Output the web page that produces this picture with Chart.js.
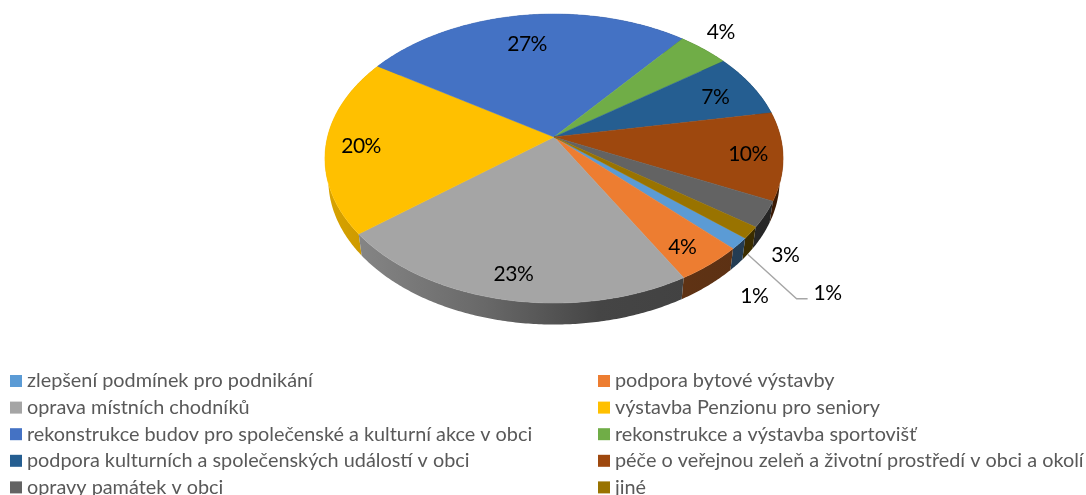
<!DOCTYPE html>
<html>
<head>
<meta charset="utf-8">
<style>html,body{margin:0;padding:0;background:#fff;overflow:hidden}canvas{display:block}</style>
<script src="https://cdn.jsdelivr.net/npm/chart.js@4/dist/chart.umd.min.js"></script>
</head>
<body>
<canvas id="c" width="1086" height="495"></canvas>
<script>
const categories = [
  "zlepšení podmínek pro podnikání",
  "podpora bytové výstavby",
  "oprava místních chodníků",
  "výstavba Penzionu pro seniory",
  "rekonstrukce budov pro společenské a kulturní akce v obci",
  "rekonstrukce a výstavba sportovišť",
  "podpora kulturních a společenských událostí v obci",
  "péče o veřejnou zeleň a životní prostředí v obci a okolí",
  "opravy památek v obci",
  "jiné"
];
const shares = [1.3, 4.2, 22.6, 19.8, 26.8, 4.2, 7.1, 9.8, 2.9, 1.3];
const colors = ["#5B9BD5","#ED7D31","#A5A5A5","#FFC000","#4472C4","#70AD47","#255E91","#9E480E","#636363","#997300"];
const labelOffsets = [[15,53],[-28,-17],[9,-25],[35,2],[4,29],[17,-17],[-36,12],[-35,-2],[20,41],[77,61]];
const leaderIndex = 9;

const RX = 226.5, RY = 141.3, K = -0.149, DEPTH = 21.5, SHRINK = 0.985;
const shade = [[0,.85],[.35,.63],[.6,.42],[1,.38]];

function project(arc, a) {
  const u = Math.cos(a), v = Math.sin(a), d = 1 + K * v;
  return { x: arc.x + RX * u / d, y: arc.y + RY * v / d };
}
function base(arc, p) {
  return { x: arc.x + (p.x - arc.x) * SHRINK, y: p.y + DEPTH };
}
function rgb(hex, m) {
  const n = parseInt(hex.slice(1), 16);
  return `rgb(${Math.round((n>>16&255)*m)},${Math.round((n>>8&255)*m)},${Math.round((n&255)*m)})`;
}
function samples(arc) {
  const out = [], n = Math.max(2, Math.ceil((arc.endAngle - arc.startAngle) / 0.01));
  for (let i = 0; i <= n; i++) out.push(arc.startAngle + (arc.endAngle - arc.startAngle) * i / n);
  return out;
}

const projectedPie = {
  id: "projectedPie",
  beforeDatasetsDraw(chart) {
    const ctx = chart.ctx, arcs = chart.getDatasetMeta(0).data;
    const order = arcs.map((a, i) => i).sort((p, q) =>
      Math.sin((arcs[p].startAngle + arcs[p].endAngle) / 2) - Math.sin((arcs[q].startAngle + arcs[q].endAngle) / 2));
    // walls
    order.forEach(i => {
      const arc = arcs[i], top = samples(arc).map(a => project(arc, a));
      const g = ctx.createLinearGradient(arc.x - RX, 0, arc.x + RX, 0);
      shade.forEach(s => g.addColorStop(s[0], rgb(colors[i], s[1])));
      ctx.beginPath();
      top.forEach((p, j) => j ? ctx.lineTo(p.x, p.y) : ctx.moveTo(p.x, p.y));
      top.slice().reverse().forEach(p => { const b = base(arc, p); ctx.lineTo(b.x, b.y); });
      ctx.closePath();
      ctx.fillStyle = g; ctx.fill();
    });
    // top faces
    arcs.forEach((arc, i) => {
      ctx.beginPath();
      ctx.moveTo(arc.x, arc.y);
      samples(arc).forEach(a => { const p = project(arc, a); ctx.lineTo(p.x, p.y); });
      ctx.closePath();
      ctx.fillStyle = colors[i]; ctx.fill();
      ctx.strokeStyle = colors[i]; ctx.lineWidth = 0.5; ctx.stroke();
    });
    return false;
  },
  afterDraw(chart) {
    const ctx = chart.ctx, arcs = chart.getDatasetMeta(0).data;
    // leader line
    const la = arcs[leaderIndex], lp = project(la, (la.startAngle + la.endAngle) / 2), lb = base(la, lp);
    const off = labelOffsets[leaderIndex];
    ctx.beginPath();
    ctx.moveTo(lb.x, lb.y);
    ctx.lineTo(lp.x + off[0] - 31, lp.y + off[1] + 5);
    ctx.lineTo(lp.x + off[0] - 20, lp.y + off[1] + 5);
    ctx.strokeStyle = "#A6A6A6"; ctx.lineWidth = 1.4; ctx.stroke();
    // value labels
    ctx.font = '21px Lato'; ctx.letterSpacing = "-0.5px"; ctx.fillStyle = "#000"; ctx.textAlign = "center"; ctx.textBaseline = "middle";
    arcs.forEach((arc, i) => {
      const p = project(arc, (arc.startAngle + arc.endAngle) / 2);
      ctx.fillText(Math.round(shares[i]) + "%", p.x + labelOffsets[i][0], p.y + labelOffsets[i][1]);
    });
    // legend
    ctx.letterSpacing = "0px";
    ctx.font = '19.85px Lato'; ctx.textAlign = "left"; ctx.textBaseline = "middle";
    chart.data.labels.forEach((t, i) => {
      const col = i % 2, row = (i - col) / 2;
      const sx = col ? 598 : 10, y = 381 + row * 26.6;
      ctx.fillStyle = colors[i];
      ctx.fillRect(sx, y - 6, 12, 12);
      ctx.fillStyle = "#595959";
      ctx.fillText(t, sx + 17, y);
    });
  }
};

new Chart(document.getElementById("c"), {
  type: "pie",
  data: { labels: categories, datasets: [{ data: shares, backgroundColor: colors, borderWidth: 0 }] },
  options: {
    responsive: false, animation: false,
    rotation: 130.3,
    layout: { padding: { left: 22, right: 0, top: 0, bottom: 221 } },
    plugins: { legend: { display: false }, tooltip: { enabled: false } }
  },
  plugins: [projectedPie]
});
</script>
</body>
</html>
